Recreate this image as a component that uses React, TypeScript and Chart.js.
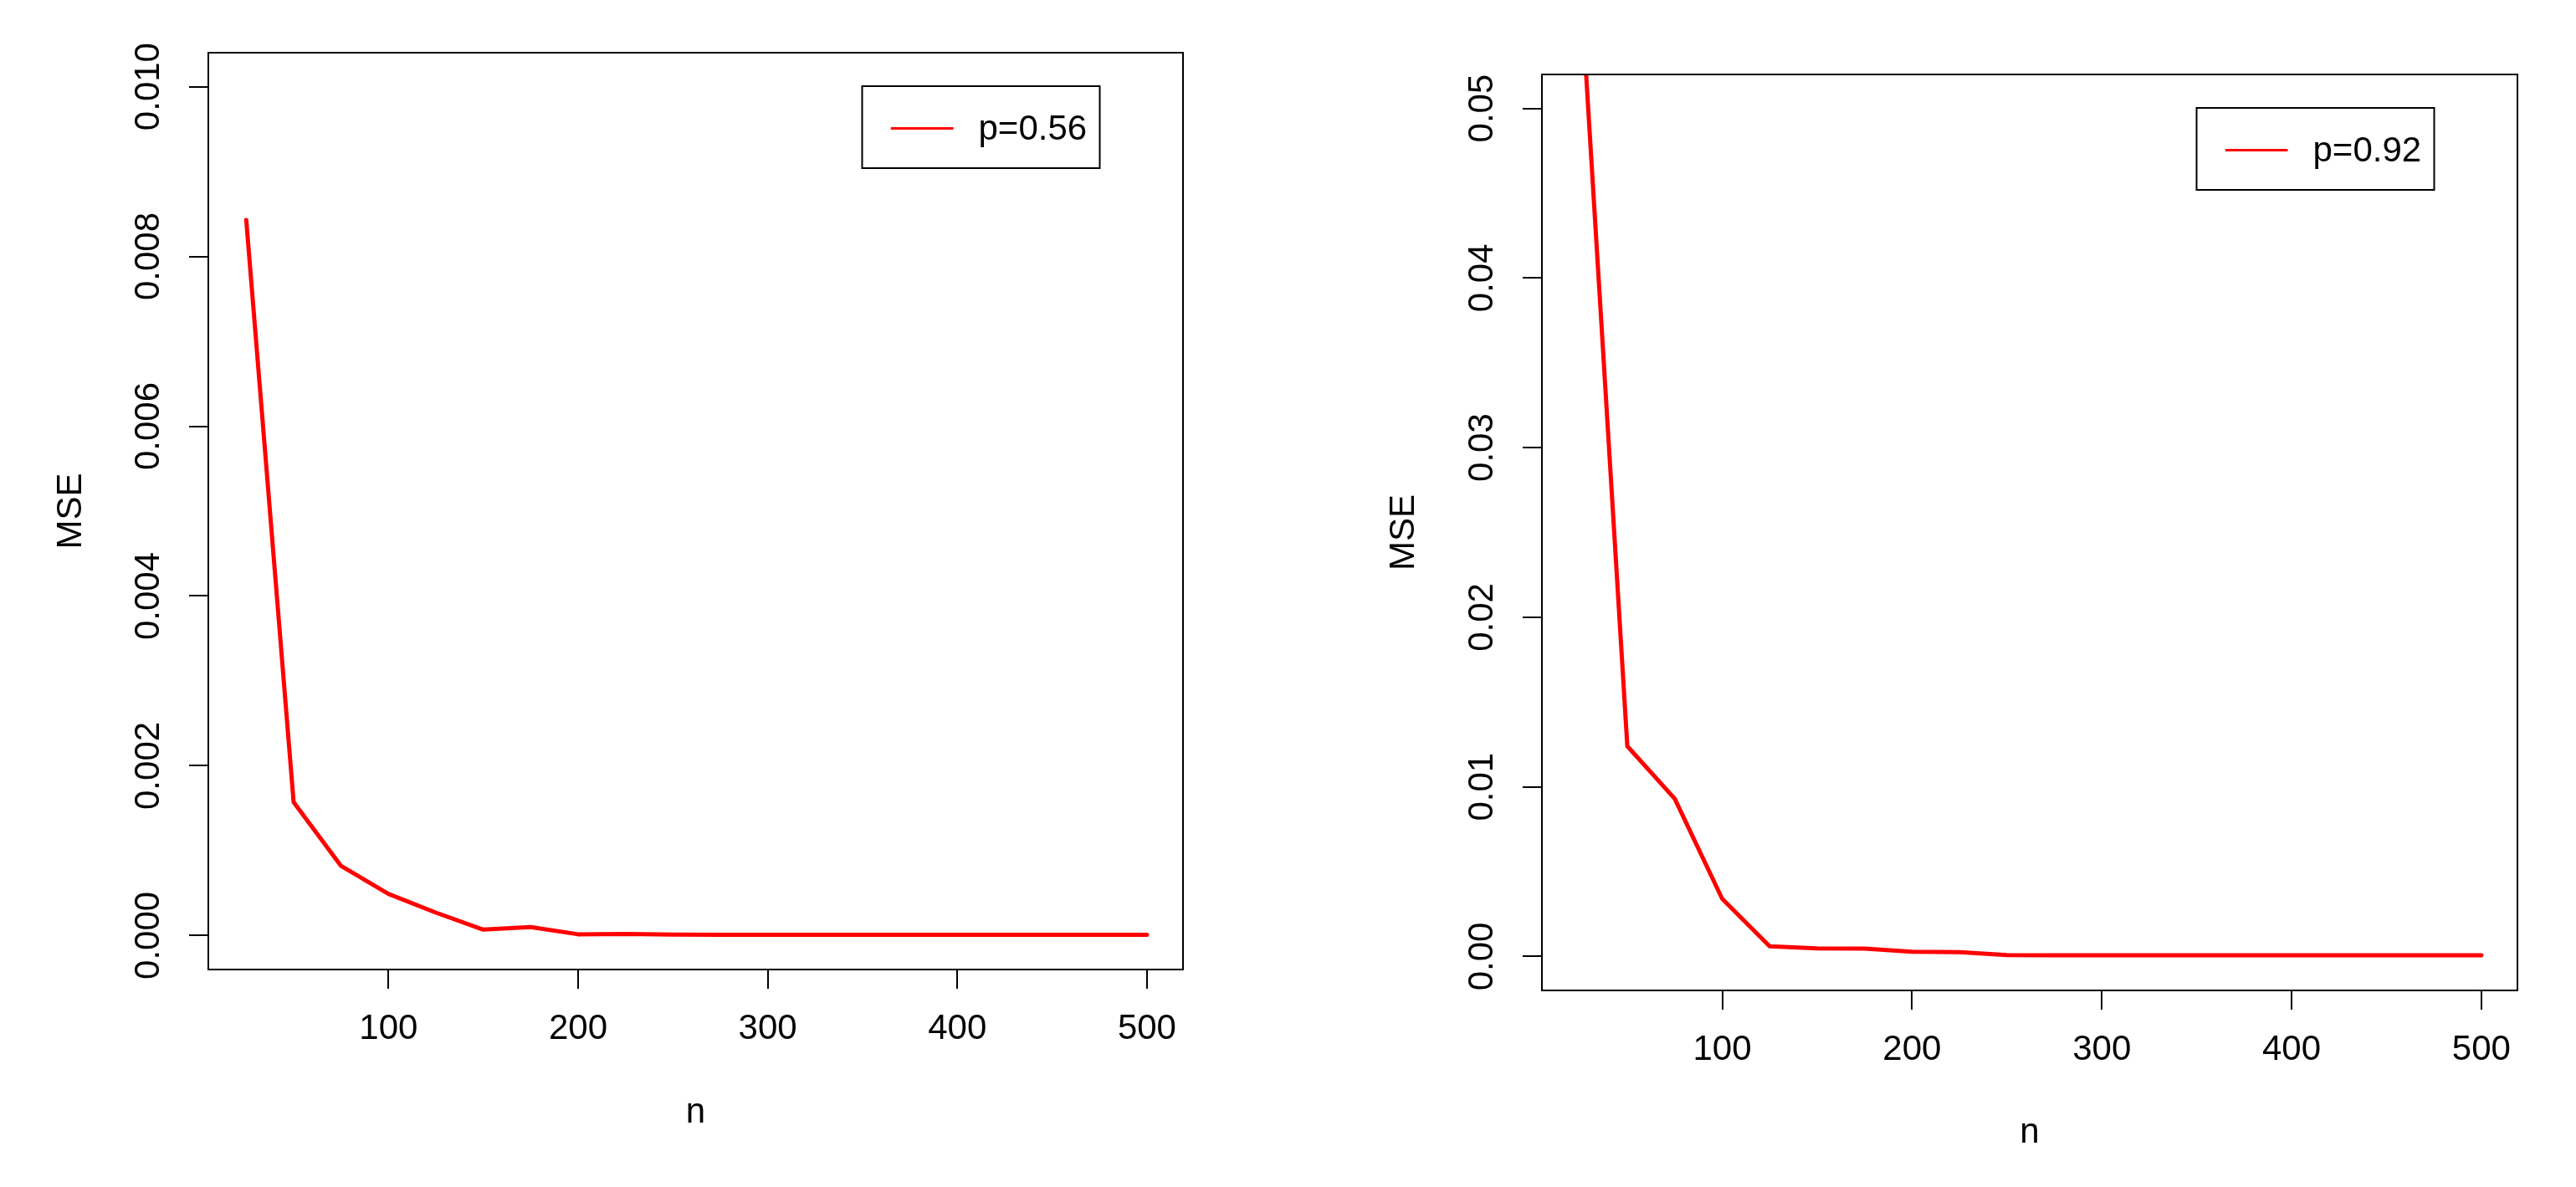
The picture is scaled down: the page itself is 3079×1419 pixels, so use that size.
import React, { useEffect, useRef } from "react";
import { Chart, registerables } from "chart.js";

Chart.register(...registerables);

// ---------------- data ----------------
const SAMPLE_SIZES = [25, 50, 75, 100, 125, 150, 175, 200, 225, 250, 275, 300, 325, 350, 375, 400, 425, 450, 475, 500];
const MSE_P056 = [0.00843, 0.00157, 0.00082, 0.00049, 0.00027, 0.00007, 0.0001, 0.000015, 0.00002, 0.000012, 0.00001, 0.00001, 0.00001, 0.00001, 0.00001, 0.00001, 0.00001, 0.00001, 0.00001, 0.00001];
const MSE_P092 = [0.058, 0.0124, 0.0093, 0.0034, 0.0006, 0.00048, 0.00046, 0.00028, 0.00026, 0.00008, 0.00007, 0.00007, 0.00007, 0.00007, 0.00007, 0.00007, 0.00007, 0.00007, 0.00007, 0.00007];
const LABEL_LEFT = "p=0.56";
const LABEL_RIGHT = "p=0.92";
const X_TICKS = [100, 200, 300, 400, 500];
const Y_TICKS_LEFT = [0, 0.002, 0.004, 0.006, 0.008, 0.01];
const Y_TICKS_RIGHT = [0, 0.01, 0.02, 0.03, 0.04, 0.05];
const X_TITLE = "n";
const Y_TITLE = "MSE";

// ---------------- layout ----------------
const H = 1419;
const FONT = "'Liberation Sans', Arial, sans-serif";
const FS = 42;

type Spec = {
  canvasLeft: number;
  width: number;
  area: { left: number; top: number; right: number; bottom: number };
  xMin: number;
  xMax: number;
  yMin: number;
  yMax: number;
  yTicks: number[];
  decimals: number;
  yTickPad: number;
  yTitlePad: number;
  xTitlePad: number;
  values: number[];
  label: string;
};

const SPECS: Spec[] = [
  {
    canvasLeft: 0,
    width: 1540,
    area: { left: 249, top: 63, right: 1414, bottom: 1159 },
    xMin: 5,
    xMax: 519,
    yMin: -0.0004,
    yMax: 0.0104,
    yTicks: Y_TICKS_LEFT,
    decimals: 3,
    yTickPad: -5,
    yTitlePad: 59.8,
    xTitlePad: 63.8,
    values: MSE_P056,
    label: LABEL_LEFT,
  },
  {
    canvasLeft: 1540,
    width: 1539,
    area: { left: 303, top: 89, right: 1469, bottom: 1184 },
    xMin: 5,
    xMax: 519,
    yMin: -0.002,
    yMax: 0.052,
    yTicks: Y_TICKS_RIGHT,
    decimals: 2,
    yTickPad: 6.6,
    yTitlePad: 113.7,
    xTitlePad: 39.8,
    values: MSE_P092,
    label: LABEL_RIGHT,
  },
];

const framePlugin = {
  id: "rFrame",
  afterDraw(chart: any) {
    const { ctx, chartArea: a } = chart;
    ctx.save();
    ctx.strokeStyle = "#000";
    ctx.lineWidth = 2;
    ctx.strokeRect(a.left, a.top, a.right - a.left, a.bottom - a.top);

    // legend (top-right, boxed)
    const ds = chart.data.datasets[0];
    const bw = 284;
    const bh = 98;
    const bx = a.right - 99.5 - bw;
    const by = a.top + 40;
    ctx.fillStyle = "#fff";
    ctx.fillRect(bx, by, bw, bh);
    ctx.strokeRect(bx, by, bw, bh);
    ctx.strokeStyle = ds.borderColor;
    ctx.lineWidth = 3;
    ctx.beginPath();
    ctx.moveTo(bx + 34.3, by + 50.5);
    ctx.lineTo(bx + 109, by + 50.5);
    ctx.stroke();
    ctx.fillStyle = "#000";
    ctx.font = `${FS}px ${FONT}`;
    ctx.textAlign = "left";
    ctx.textBaseline = "alphabetic";
    ctx.fillText(ds.label, bx + 139, by + 63.8);
    ctx.restore();
  },
};

function Panel({ spec }: { spec: Spec }) {
  const ref = useRef<HTMLCanvasElement>(null);
  useEffect(() => {
    const canvas = ref.current;
    if (!canvas) return;
    const points = SAMPLE_SIZES.map((n, i) => ({ x: n, y: spec.values[i] }));
    const xAxisHeight = H - spec.area.bottom;
    const yAxisWidth = spec.area.left;
    const chart = new Chart(canvas, {
      type: "line",
      data: {
        datasets: [
          {
            label: spec.label,
            data: points,
            borderColor: "#ff0000",
            backgroundColor: "#ff0000",
            borderWidth: 5,
            pointRadius: 0,
            tension: 0,
            fill: false,
            clip: 0,
            borderCapStyle: "round",
            borderJoinStyle: "round",
          } as any,
        ],
      },
      options: {
        responsive: false,
        animation: false,
        devicePixelRatio: 1,
        events: [],
        layout: {
          padding: {
            top: spec.area.top,
            right: spec.width - spec.area.right,
            left: 0,
            bottom: 0,
          },
        },
        plugins: {
          legend: { display: false },
          tooltip: { enabled: false },
          title: { display: false },
        },
        scales: {
          x: {
            type: "linear",
            position: "bottom",
            min: spec.xMin,
            max: spec.xMax,
            afterBuildTicks: (scale: any) => {
              scale.ticks = X_TICKS.map((v) => ({ value: v }));
            },
            afterFit: (scale: any) => {
              scale.height = xAxisHeight;
            },
            grid: {
              display: true,
              drawOnChartArea: false,
              drawTicks: true,
              tickLength: 23,
              tickWidth: 2,
              tickColor: "#000",
              color: "#000",
              lineWidth: 2,
            },
            border: { display: false },
            ticks: {
              color: "#000",
              font: { family: FONT, size: FS },
              padding: 23,
              maxRotation: 0,
              minRotation: 0,
              autoSkip: false,
              callback: (v: any) => String(v),
            },
            title: {
              display: true,
              text: X_TITLE,
              color: "#000",
              font: { family: FONT, size: FS },
              padding: { top: 0, bottom: spec.xTitlePad },
            },
          },
          y: {
            type: "linear",
            position: "left",
            min: spec.yMin,
            max: spec.yMax,
            afterBuildTicks: (scale: any) => {
              scale.ticks = spec.yTicks.map((v) => ({ value: v }));
            },
            afterFit: (scale: any) => {
              scale.width = yAxisWidth;
            },
            grid: {
              display: true,
              drawOnChartArea: false,
              drawTicks: true,
              tickLength: 23,
              tickWidth: 2,
              tickColor: "#000",
              color: "#000",
              lineWidth: 2,
            },
            border: { display: false },
            ticks: {
              color: "#000",
              font: { family: FONT, size: FS },
              padding: spec.yTickPad,
              minRotation: 90,
              maxRotation: 90,
              crossAlign: "center",
              autoSkip: false,
              callback: (v: any) => Number(v).toFixed(spec.decimals),
            },
            title: {
              display: true,
              text: Y_TITLE,
              color: "#000",
              font: { family: FONT, size: FS },
              padding: { top: spec.yTitlePad, bottom: 0 },
            },
          },
        },
      } as any,
      plugins: [framePlugin],
    });
    return () => chart.destroy();
  }, [spec]);
  return (
    <canvas
      ref={ref}
      width={spec.width}
      height={H}
      style={{
        position: "absolute",
        left: spec.canvasLeft,
        top: 0,
        width: spec.width,
        height: H,
        display: "block",
      }}
    />
  );
}

export default function App() {
  return (
    <div
      style={{
        position: "absolute",
        left: 0,
        top: 0,
        width: 3079,
        height: H,
        background: "#fff",
        overflow: "hidden",
      }}
    >
      {SPECS.map((s, i) => (
        <Panel key={i} spec={s} />
      ))}
    </div>
  );
}
